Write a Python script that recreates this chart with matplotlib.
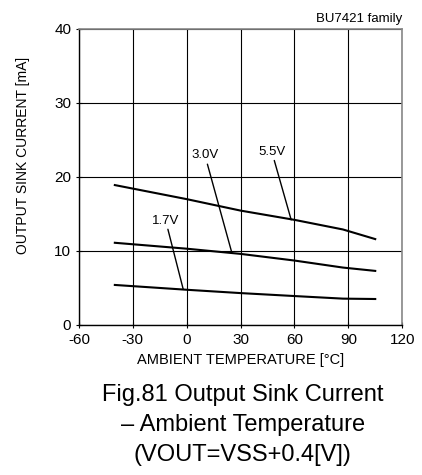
import numpy as np
import matplotlib
matplotlib.use("Agg")
import matplotlib.pyplot as plt

plt.rcParams['font.family'] = ['Liberation Sans', 'DejaVu Sans']
plt.rcParams['axes.unicode_minus'] = False

# curves
temp = [-40, 0, 30, 60, 87, 105]
i_55 = [18.9, 17.0, 15.45, 14.2, 12.9, 11.6]
i_30 = [11.1, 10.3, 9.6, 8.7, 7.75, 7.3]
i_17 = [5.4, 4.75, 4.3, 3.9, 3.55, 3.5]

labels = ["5.5V", "3.0V", "1.7V"]
# (text x, text y, leader end x, leader end y)
label_pos = [(47.4, 22.6, 58.2, 14.2), (10.2, 22.1, 25.1, 9.8), (-11.7, 13.3, -1.9, 4.8)]

xticks = [-60, -30, 0, 30, 60, 90, 120]
yticks = [0, 10, 20, 30, 40]

fig = plt.figure(figsize=(4.22, 4.75), dpi=100)
ax = fig.add_axes([0.187, 0.316, 0.766, 0.623])

for y in (i_55, i_30, i_17):
    ax.plot(temp, y, color="black", lw=1.5, zorder=3)

for lab, (tx, ty, ex, ey) in zip(labels, label_pos):
    ax.annotate(lab, xy=(ex, ey), xytext=(tx, ty), ha="center", va="bottom",
                fontsize=9.5, arrowprops=dict(arrowstyle="-", color="black", lw=1.0,
                                              shrinkA=0, shrinkB=0))

ax.set_xlim(-60, 120)
ax.set_ylim(0, 40)
ax.set_xticks(xticks)
ax.set_yticks(yticks)
ax.set_xticklabels([str(t) for t in xticks])
ax.set_yticklabels([str(t) for t in yticks])
ax.tick_params(labelsize=11, length=5, width=0.8, direction="inout", pad=3)
ax.grid(True, color="black", lw=0.8)
ax.set_axisbelow(True)
for s in ("top", "right"):
    ax.spines[s].set_color("#888888")
    ax.spines[s].set_linewidth(1.2)
for s in ("left", "bottom"):
    ax.spines[s].set_linewidth(1.0)

ax.set_xlabel("AMBIENT TEMPERATURE [°C]", fontsize=10.5, labelpad=5)
ax.set_ylabel("OUTPUT SINK CURRENT [mA]", fontsize=10)
ax.yaxis.set_label_coords(-0.150, 0.574)
ax.set_title("BU7421 family", fontsize=9.5, loc="right", pad=5)

fig.text(0.575, 0.105, "Fig.81 Output Sink Current\n– Ambient Temperature\n(VOUT=VSS+0.4[V])",
         ha="center", va="center", fontsize=17, linespacing=1.45)

fig.savefig("out.png", dpi=100)
